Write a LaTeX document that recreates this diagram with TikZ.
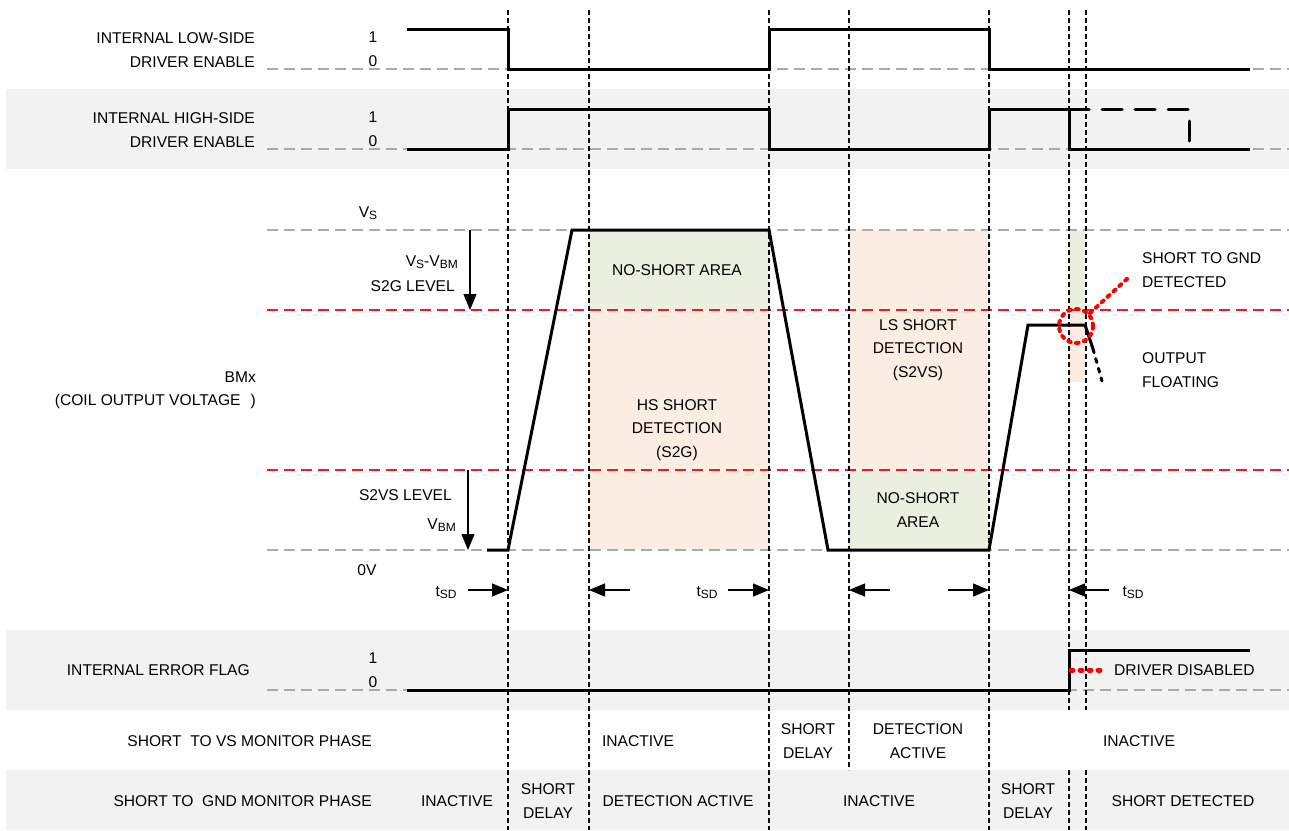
\documentclass[tikz,border=0pt]{standalone}
\usepackage{fontspec}
\setmainfont{Liberation Sans}
\usetikzlibrary{arrows.meta,positioning}
\definecolor{bandgray}{RGB}{242,242,242}
\definecolor{levelgray}{RGB}{170,170,170}
\definecolor{thresred}{RGB}{237,28,36}
\definecolor{safegreen}{RGB}{235,239,224}
\definecolor{detectorange}{RGB}{252,237,227}
\newcommand{\lsub}[1]{\raisebox{-2pt}{\fontsize{12}{12}\selectfont #1}}
\tikzset{
  txt/.style={inner sep=0pt,font=\fontsize{15.6}{23.5}\selectfont,align=center},
  rtxt/.style={txt,align=right,anchor=east},
  ltxt/.style={txt,align=left,anchor=west},
  levelline/.style={draw=levelgray,line width=1.5pt,dash pattern=on 11pt off 6pt},
  thresline/.style={draw=thresred,line width=1.5pt,dash pattern=on 11pt off 6pt},
  edgeline/.style={draw=black,line width=1.2pt,dash pattern=on 5pt off 3pt},
  wave/.style={draw=black,line width=3pt},
  dimarrow/.style={-{Triangle[length=16pt,width=13pt]},line width=1.3pt},
  reddots/.style={draw=red,line width=4pt,line cap=round,dash pattern=on 2.5pt off 5.5pt},
}

\begin{document}
\begin{tikzpicture}[x=1pt,y=-1pt]
\useasboundingbox (0,0) rectangle (1289,830);
% row bands
\fill[bandgray] (6,89) rectangle (1289,169);
\fill[bandgray] (6,630) rectangle (1289,710);
\fill[bandgray] (6,770) rectangle (1289,830);
% detection windows
\fill[safegreen] (589,230) rectangle (769,310);
\fill[detectorange] (589,310) rectangle (769,550);
\fill[detectorange] (849,230) rectangle (989,470);
\fill[safegreen] (849,470) rectangle (989,550);
\fill[safegreen] (1069,230) rectangle (1086,310);
\fill[detectorange] (1069,310) rectangle (1086,382);
% levels and thresholds
\foreach \y in {69,149,230,550,690}
  \draw[levelline] (267,\y) -- (1289,\y);
\foreach \y in {310,470}
  \draw[thresline] (267,\y) -- (1289,\y);
% timing edges
\foreach \x in {508,589,769,989}
  \draw[edgeline] (\x,10) -- (\x,830);
\draw[edgeline] (849,10) -- (849,770);
\foreach \x in {1069,1086}{
  \draw[edgeline] (\x,10) -- (\x,710);
  \draw[edgeline] (\x,770) -- (\x,830);}

% signals
\draw[wave] (407,29) -- (508,29) -- (508,69) -- (769,69) -- (769,29)
  -- (989,29) -- (989,69) -- (1250,69);
\draw[wave] (407,149) -- (508,149) -- (508,109) -- (769,109) -- (769,149)
  -- (989,149) -- (989,109) -- (1069,109) -- (1069,149) -- (1250,149);
\draw[wave,line cap=round,dash pattern=on 20pt off 13pt]
  (1069,109) -- (1189,109) -- (1189,145);
\draw[wave] (407,690) -- (1069,690) -- (1069,650) -- (1250,650);
\draw[wave] (487,550) -- (508,550) -- (572,230) -- (769,230) -- (828,550)
  -- (989,550) -- (1028,325) -- (1085,325) -- (1093,349);
\draw[wave,line cap=round,dash pattern=on 4pt off 6pt] (1093,349) -- (1102,381);

% left labels
\node[rtxt] (lsname) at (255,50) {INTERNAL LOW-SIDE\\DRIVER ENABLE};
\node[txt] (lsbits) at (373,49) {1\\0};
\node[rtxt] (hsname) at (255,130) {INTERNAL HIGH-SIDE\\DRIVER ENABLE};
\node[txt] (hsbits) at (373,129) {1\\0};
\node[rtxt] (bmxname) at (256,390) {BMx\\(COIL OUTPUT VOLTAGE\hspace{10pt})};
\node[rtxt] (errname) at (250,670) {INTERNAL ERROR FLAG};
\node[txt] (errbits) at (373,670) {1\\0};
\node[rtxt] (vsphase) at (372,741) {SHORT\ \ TO VS MONITOR PHASE};
\node[rtxt] (gndphase) at (372,801) {SHORT TO\ \ GND MONITOR PHASE};

% voltage levels
\node[txt] (vslvl) at (368,213) {V\lsub{S}};
\node[txt] (zerov) at (367,570) {0V};
\node[rtxt] (s2gdiff) at (458,262) {V\lsub{S}-V\lsub{BM}};
\node[rtxt] (s2glbl) at (455,286) {S2G LEVEL};
\node[rtxt] (s2vslbl) at (452,495) {S2VS LEVEL};
\node[rtxt] (vbmlbl) at (456,525) {V\lsub{BM}};
\coordinate (s2gtop) at (470,230);
\coordinate (s2gbot) at (470,310);
\coordinate (s2vstop) at (468,470);
\coordinate (s2vsbot) at (468,550);
\draw[dimarrow] (s2gtop) -- (s2gbot);
\draw[dimarrow] (s2vstop) -- (s2vsbot);

% blanking times
\node[txt] (tsdA) at (446,593) {t\lsub{SD}};
\node[txt] (tsdB) at (707,593) {t\lsub{SD}};
\node[txt] (tsdC) at (1133,593) {t\lsub{SD}};
\coordinate (tA1) at (468,590);  \coordinate (tA2) at (508,590);
\coordinate (tB1) at (630,590);  \coordinate (tB2) at (589,590);
\coordinate (tB3) at (728,590);  \coordinate (tB4) at (769,590);
\coordinate (tC1) at (890,590);  \coordinate (tC2) at (849,590);
\coordinate (tC3) at (948,590);  \coordinate (tC4) at (989,590);
\coordinate (tD1) at (1109,590); \coordinate (tD2) at (1069,590);
\draw[dimarrow] (tA1) -- (tA2);
\draw[dimarrow] (tB1) -- (tB2);
\draw[dimarrow] (tB3) -- (tB4);
\draw[dimarrow] (tC1) -- (tC2);
\draw[dimarrow] (tC3) -- (tC4);
\draw[dimarrow] (tD1) -- (tD2);

% window texts
\node[txt] (nsA) at (677,270) {NO-SHORT AREA};
\node[txt] (hsdet) at (677,430) {HS SHORT\\DETECTION\\(S2G)};
\node[txt] (lsdet) at (918,350) {LS SHORT\\DETECTION\\(S2VS)};
\node[txt] (nsB) at (918,510) {NO-SHORT\\AREA};
\node[ltxt] (gndnote) at (1142,270) {SHORT TO GND\\DETECTED};
\node[ltxt] (floatnote) at (1142,370) {OUTPUT\\FLOATING};
\node[reddots,circle,minimum size=34pt,inner sep=0pt] (gndring) at (1076,326) {};
\coordinate (gndtip) at (1128,278);
\draw[reddots] (gndring) -- (gndtip);

% error flag note
\node[ltxt] (disabled) at (1114,670) {DRIVER DISABLED};
\coordinate (disstart) at (1071,670);
\draw[draw=red,line width=5pt,line cap=round,dash pattern=on 2pt off 7pt]
  (disstart) -- ([xshift=-12pt]disabled.west);

% phase rows
\node[txt] (vsA) at (638,741) {INACTIVE};
\node[txt] (vsB) at (808,741) {SHORT\\DELAY};
\node[txt] (vsC) at (918,741) {DETECTION\\ACTIVE};
\node[txt] (vsD) at (1139,741) {INACTIVE};
\node[txt] (gndA) at (457,801) {INACTIVE};
\node[txt] (gndB) at (548,801) {SHORT\\DELAY};
\node[txt] (gndC) at (678,801) {DETECTION ACTIVE};
\node[txt] (gndD) at (879,801) {INACTIVE};
\node[txt] (gndE) at (1028,801) {SHORT\\DELAY};
\node[txt] (gndF) at (1183,801) {SHORT DETECTED};
\end{tikzpicture}
\end{document}
